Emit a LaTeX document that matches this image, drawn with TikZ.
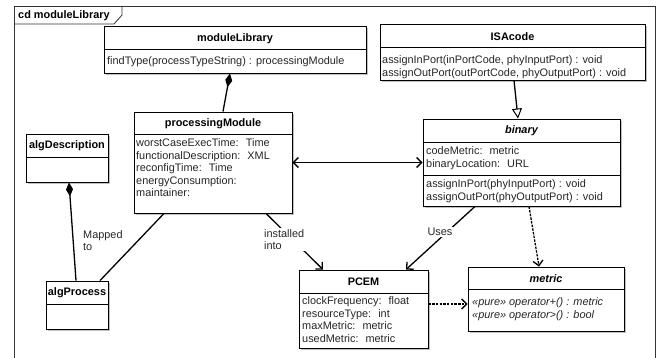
\documentclass[tikz,border=0pt]{standalone}
\usepackage{fontspec}
\setmainfont{Liberation Sans}
\usetikzlibrary{arrows.meta,shadows,calc}
\newcommand{\umlfont}{\fontsize{10.9}{12.5}\selectfont}
\begin{document}
\begin{tikzpicture}[x=1pt,y=-1pt,
  cls/.style={draw, line width=0.9pt, fill=white, inner sep=0pt,
    drop shadow={shadow xshift=2pt,shadow yshift=-2pt,fill=black!35,opacity=0.7}},
  dv/.style={line width=0.9pt},
  ttl/.style={font=\umlfont\bfseries, inner sep=0pt},
  txt/.style={font=\umlfont, align=left, anchor=north west, inner sep=0pt, text=black!85},
  conn/.style={line width=1.3pt},
  nav/.style={-{Straight Barb[length=5pt,width=10pt,line width=1.3pt]}},
  lbl/.style={font=\umlfont, fill=white, inner sep=1pt, align=left, text=black!85}
]
\useasboundingbox (0,0) rectangle (659,358);
\begin{scope}
\clip (0,0) rectangle (659,358);
\draw[line width=0.8pt, black!80] (14,365) -- (14,6) -- (655,6) -- (655,365);
\draw[line width=0.8pt, black!80] (14,24) -- (114,24) -- (122,15) -- (122,6);
\end{scope}
\node[ttl, anchor=west] (frametitle) at (18,15.5) {cd moduleLibrary};

% boxes
\node[cls, minimum width=262pt, minimum height=47pt] (ml) at (235,49.5) {};
\node[cls, minimum width=265pt, minimum height=56pt] (isa) at (512.5,52) {};
\node[cls, minimum width=158pt, minimum height=101pt] (pm) at (213,162.5) {};
\node[cls, minimum width=82pt, minimum height=48pt] (algD) at (67,158) {};
\node[cls, minimum width=62pt, minimum height=48pt] (algP) at (77,305) {};
\node[cls, minimum width=197pt, minimum height=87pt] (bin) at (521.5,162.5) {};
\node[cls, minimum width=129pt, minimum height=78pt] (pcem) at (363.5,309) {};
\node[cls, minimum width=156pt, minimum height=64pt] (met) at (546,299) {};

% dividers
\draw[dv] (ml.west |- 0,49) -- (ml.east |- 0,49);
\draw[dv] (isa.west |- 0,47) -- (isa.east |- 0,47);
\draw[dv] (pm.west |- 0,134) -- (pm.east |- 0,134);
\draw[dv] (algD.west |- 0,157) -- (algD.east |- 0,157);
\draw[dv] (algP.west |- 0,304) -- (algP.east |- 0,304);
\draw[dv] (bin.west |- 0,142) -- (bin.east |- 0,142);
\draw[dv] (bin.west |- 0,175) -- (bin.east |- 0,175);
\draw[dv] (pcem.west |- 0,293) -- (pcem.east |- 0,293);
\draw[dv] (met.west |- 0,289) -- (met.east |- 0,289);

% titles
\node[ttl] (mlT) at (235,38.5) {moduleLibrary};
\node[ttl] (isaT) at (512.5,37) {ISAcode};
\node[ttl] (pmT) at (213,124) {processingModule};
\node[ttl] (algDT) at (67,146) {algDescription};
\node[ttl] (algPT) at (77,293) {algProcess};
\node[ttl, font=\umlfont\bfseries\itshape] (binT) at (521.5,131) {binary};
\node[ttl] (pcemT) at (363.5,282) {PCEM};
\node[ttl, font=\umlfont\bfseries\itshape] (metT) at (546,279) {metric};

% compartments
\node[txt] (mlA) at (107,56.5) {findType(processTypeString) : processingModule};
\node[txt] (isaA) at (382,55.5) {assignInPort(inPortCode, phyInputPort) : void\\assignOutPort(outPortCode, phyOutputPort) : void};
\node[txt] (pmA) at (136,138.5) {worstCaseExecTime:~ Time\\functionalDescription:~ XML\\reconfigTime:~ Time\\energyConsumption:\\maintainer:};
\node[txt] (binA) at (426,146.5) {codeMetric:~ metric\\binaryLocation:~ URL};
\node[txt] (binB) at (426,179.5) {assignInPort(phyInputPort) : void\\assignOutPort(phyOutputPort) : void};
\node[txt] (pcemA) at (302,296.5) {clockFrequency:~ float\\resourceType:~ int\\maxMetric:~ metric\\usedMetric:~ metric};
\node[txt, font=\umlfont\itshape] (metA) at (472,297.5) {«pure» operator+() : metric\\«pure» operator>() : bool};

% connectors
\draw[conn, {Diamond[length=14pt,width=7pt]}-] ([xshift=-5pt]ml.south) -- ([xshift=10pt]pm.north);
\draw[conn, {Diamond[length=14pt,width=7pt]}-] ([xshift=2pt]algD.south) -- ([xshift=-1pt]algP.north);
\draw[conn] ([xshift=-49pt]pm.south) -- ([xshift=23pt]algP.north);
\draw[conn, {Straight Barb[length=5pt,width=10pt,line width=1.3pt]}-{Straight Barb[length=5pt,width=10pt,line width=1.3pt]}] (pm.east) -- (bin.west);
\draw[conn, -{Triangle[open,length=10pt,width=10pt,line width=1pt]}] ([xshift=1.5pt]isa.south) -- ([xshift=-3.5pt]bin.north);
\draw[conn, nav] ([xshift=53pt]pm.south) -- ([xshift=-40.5pt]pcem.north);
\draw[conn, nav] ([xshift=-46.5pt]bin.south) -- ([xshift=42.5pt]pcem.north);
\draw[conn, nav, dash pattern=on 2.5pt off 1.2pt] ([xshift=7.5pt]bin.south) -- ([xshift=-7pt]met.north);
\draw[conn, nav, dash pattern=on 2.5pt off 1.2pt] ([yshift=5pt]pcem.east) -- ([yshift=-5pt]met.west);

% labels
\node[lbl, fill=none, anchor=north west, inner sep=0pt] (mappedto) at (83,230) {Mapped\\to};
\node[lbl, anchor=north west] (installed) at (263,228) {installed\\into};
\node[lbl] (uses) at (440,232) {Uses};
\end{tikzpicture}
\end{document}
